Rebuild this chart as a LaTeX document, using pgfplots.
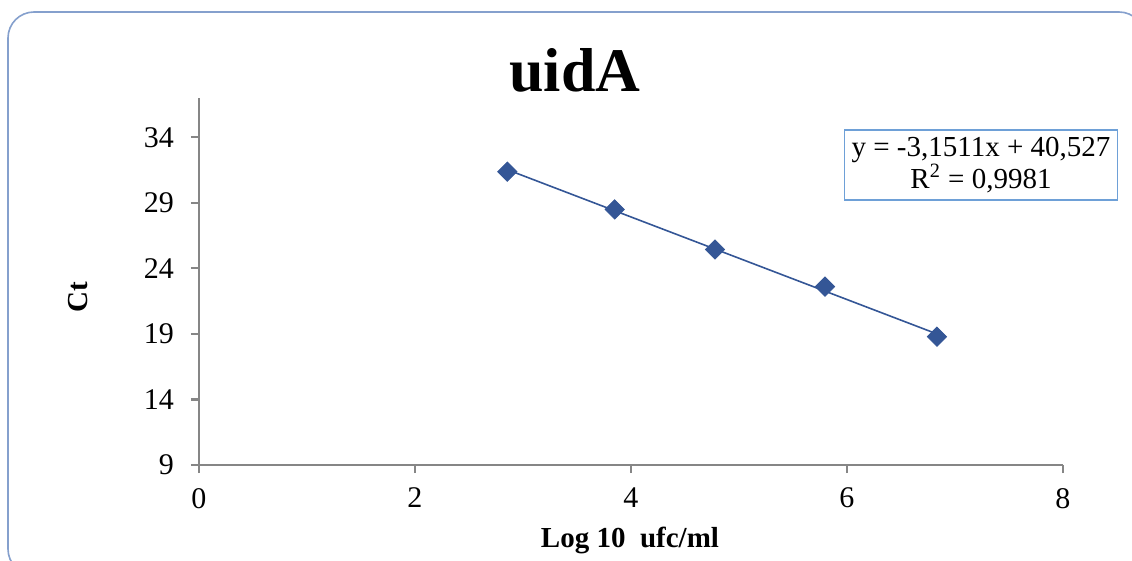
\documentclass[border=0pt]{standalone}
\usepackage{fontspec}
\setmainfont{Liberation Serif}
\usepackage{pgfplots}
\pgfplotsset{compat=1.18}
\definecolor{trendblue}{RGB}{52,86,150}
\definecolor{framecol}{RGB}{133,160,205}
\definecolor{boxcol}{RGB}{110,160,215}
\definecolor{axisgray}{RGB}{134,134,134}

\begin{document}
\begin{tikzpicture}
% page = 1132 x 561 px, 1 px = 0.5pt
\useasboundingbox (0pt,0pt) rectangle (566pt,-280.5pt);
\clip (0pt,0pt) rectangle (566pt,-280.5pt);
\draw[framecol, line width=0.8pt, rounded corners=13pt] (4pt,-6pt) rectangle (572.5pt,-287.5pt);

\begin{axis}[
    at={(99.5pt,-232.5pt)}, anchor=south west,
    scale only axis,
    width=432pt, height=183.5pt,
    xmin=0, xmax=8,
    ymin=9, ymax=37,
    xtick={0,2,4,6,8},
    ytick={9,14,19,24,29,34},
    axis lines*=left,
    x axis line style={-}, y axis line style={-},
    axis line style={axisgray, line width=1.1pt},
    tick style={axisgray, line width=1.1pt},
    tick align=outside,
    major tick length=4pt,
    ticklabel style={font=\fontsize{15}{17}\selectfont, text=black},
    xticklabel style={yshift=-4pt},
    yticklabel style={xshift=-5pt},
    /pgf/number format/assume math mode=true,
    clip=false,
]
% linear trend line (Excel): y = -3.1511x + 40.527, drawn over the data range
\addplot[trendblue, line width=0.8pt] coordinates {(2.855,31.531) (6.833,19.000)};
% measured points
\addplot[only marks, mark=square*, mark size=3.4pt,
         mark options={rotate=45, fill=trendblue, draw=trendblue}]
    coordinates {(2.855,31.38) (3.849,28.50) (4.778,25.44) (5.796,22.61) (6.833,18.79)};
\end{axis}

\node[anchor=base, font=\fontsize{31}{35}\selectfont\bfseries] at (287.5pt,-46pt) {uidA};
\node[draw=boxcol, line width=0.6pt, fill=white, align=center,
      minimum width=136.5pt, minimum height=35pt, inner sep=2pt,
      font=\fontsize{14.5}{16}\selectfont] at (490.5pt,-82.5pt)
      {y = -3,1511x + 40,527\\R\textsuperscript{2} = 0,9981};
\node[rotate=90, font=\fontsize{14.5}{16}\selectfont\bfseries] at (39pt,-148.5pt) {Ct};
\node[font=\fontsize{14.5}{16}\selectfont\bfseries] at (315pt,-270pt) {Log 10\ \ ufc/ml};
\end{tikzpicture}
\end{document}
